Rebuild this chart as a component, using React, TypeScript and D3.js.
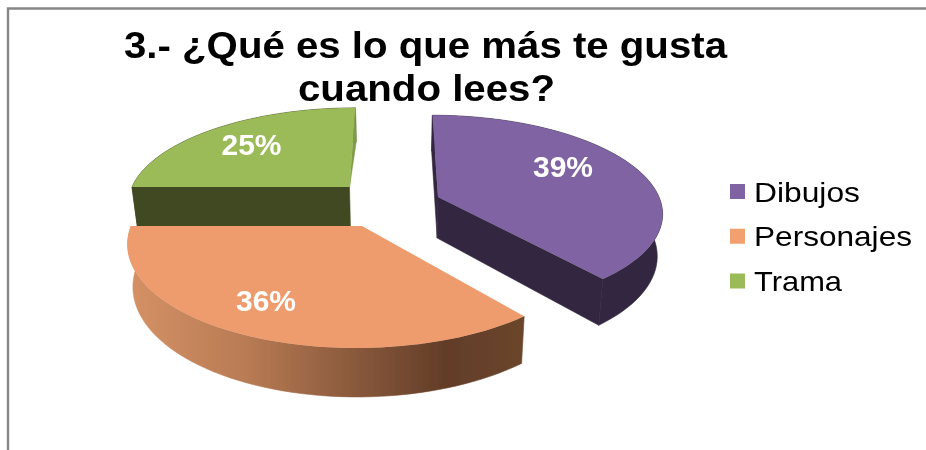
import React from "react";
import * as d3 from "d3";

const categories = ["Dibujos", "Personajes", "Trama"];
const values = [39, 36, 25];
const percentLabels = ["39%", "36%", "25%"];
const titleLines = ["3.- ¿Qué es lo que más te gusta", "cuando lees?"];

const faceColors = ["#8064A2", "#EE9C6E", "#9BBB59"];
const wallColors = ["#33263F", "url(#orangeWall)", "#414A22"];
const cutStartColors = ["#33263F", "none", "#414A22"];
const cutEndColors = ["#33263F", "none", "#7F9A48"];
const swatchColors = ["#8064A2", "#F2A070", "#9BBB59"];

// layout of each exploded slice: apex on screen, radii, extrusion, label anchor
const sliceLayout = [
  { ax: 438, ay: 197, rx: 221, ry: 94, depth: 41, lx: 563, ly: 177, endCutToFloor: true },
  { ax: 362, ay: 226, rx: 231, ry: 103.7, depth: 41.6, lx: 266, ly: 311, endCutToFloor: true },
  { ax: 349.5, ay: 187, rx: 217.5, ry: 91, depth: 39, lx: 251.5, ly: 155, endCutToFloor: false },
];
const legendWidths = [106, 158, 88];
const vanishX = 395;
const persp = 0.15;
const shrink = 0.98;

const pieGen = d3.pie<number>().sort(null).startAngle(0).endAngle(2 * Math.PI);
const arcs = pieGen(values);

type P = [number, number];
const lineGen = d3.line<P>().x((d) => d[0]).y((d) => d[1]);

function project(i: number, theta: number, r: number, lower: boolean): P {
  const s = sliceLayout[i];
  const c = Math.cos(theta);
  const w = 1 + persp * c * r;
  const k = lower ? shrink : 1;
  const x = vanishX + (k * (s.ax - vanishX + s.rx * r * Math.sin(theta))) / w;
  const y = s.ay + (-s.ry * r * c + (lower ? s.depth : 0)) / w;
  return [x, y];
}

function arcPoints(i: number, a0: number, a1: number, lower: boolean): P[] {
  const n = 60;
  return d3.range(n + 1).map((j) => project(i, a0 + ((a1 - a0) * j) / n, 1, lower));
}

const legendY = d3.scalePoint<string>().domain(categories).range([191.5, 281]);

export default function App() {
  const order = [2, 0, 1];
  return (
    <svg
      width={926}
      height={450}
      viewBox="0 0 926 450"
      style={{ position: "absolute", left: 0, top: 0, display: "block", background: "#fff" }}
    >
      <defs>
        <linearGradient id="orangeWall" gradientUnits="userSpaceOnUse" x1={128} x2={524} y1={0} y2={0}>
          <stop offset="0" stopColor="#D59165" />
          <stop offset="0.3" stopColor="#B87B54" />
          <stop offset="0.8" stopColor="#623D28" />
          <stop offset="1" stopColor="#6B452C" />
        </linearGradient>
        <filter id="soft" x="-5%" y="-5%" width="110%" height="110%">
          <feGaussianBlur stdDeviation="0.45" />
        </filter>
      </defs>
      <path d="M8 450 V8.5 H926" fill="none" stroke="#868686" strokeWidth={2.4} />
      <g filter="url(#soft)">
        {order.map((i) => {
          const a = arcs[i];
          const top = arcPoints(i, a.startAngle, a.endAngle, false);
          const bottom = arcPoints(i, a.startAngle, a.endAngle, true);
          const apex = project(i, 0, 0, false);
          const apexLow = project(i, 0, 0, true);
          const outer = lineGen([...top, ...bottom.slice().reverse()]) + "Z";
          const cutA = lineGen([apex, top[0], bottom[0], apexLow]) + "Z";
          const endPts: P[] = [apex, top[top.length - 1], bottom[bottom.length - 1]];
          if (sliceLayout[i].endCutToFloor) endPts.push(apexLow);
          const cutB = lineGen(endPts) + "Z";
          const face = lineGen([apex, ...top]) + "Z";
          return (
            <g key={categories[i]}>
              <path d={outer} fill={wallColors[i]} stroke={wallColors[i]} strokeWidth={0.6} />
              <path d={cutA} fill={cutStartColors[i]} stroke={cutStartColors[i]} strokeWidth={0.6} />
              <path d={cutB} fill={cutEndColors[i]} stroke={cutEndColors[i]} strokeWidth={0.6} />
              <path d={face} fill={faceColors[i]} />
            </g>
          );
        })}
        {percentLabels.map((t, i) => (
          <text
            key={t}
            x={sliceLayout[i].lx}
            y={sliceLayout[i].ly}
            textAnchor="middle"
            fontFamily="Liberation Sans"
            fontWeight="bold"
            fontSize={30}
            fill="#fff"
            textLength={60}
            lengthAdjust="spacingAndGlyphs"
          >
            {t}
          </text>
        ))}
        <text
          x={425.5}
          y={58}
          textAnchor="middle"
          fontFamily="Liberation Sans"
          fontWeight="bold"
          fontSize={36}
          fill="#000"
          textLength={603}
          lengthAdjust="spacingAndGlyphs"
        >
          {titleLines[0]}
        </text>
        <text
          x={426.5}
          y={101}
          textAnchor="middle"
          fontFamily="Liberation Sans"
          fontWeight="bold"
          fontSize={36}
          fill="#000"
          textLength={257}
          lengthAdjust="spacingAndGlyphs"
        >
          {titleLines[1]}
        </text>
        {categories.map((c, i) => {
          const y = legendY(c) as number;
          return (
            <g key={c}>
              <rect x={730} y={y - 7.5} width={15} height={15} fill={swatchColors[i]} />
              <text
                x={754}
                y={y + 10}
                fontFamily="Liberation Sans"
                fontSize={28}
                fill="#000"
                textLength={legendWidths[i]}
                lengthAdjust="spacingAndGlyphs"
              >
                {c}
              </text>
            </g>
          );
        })}
      </g>
    </svg>
  );
}
